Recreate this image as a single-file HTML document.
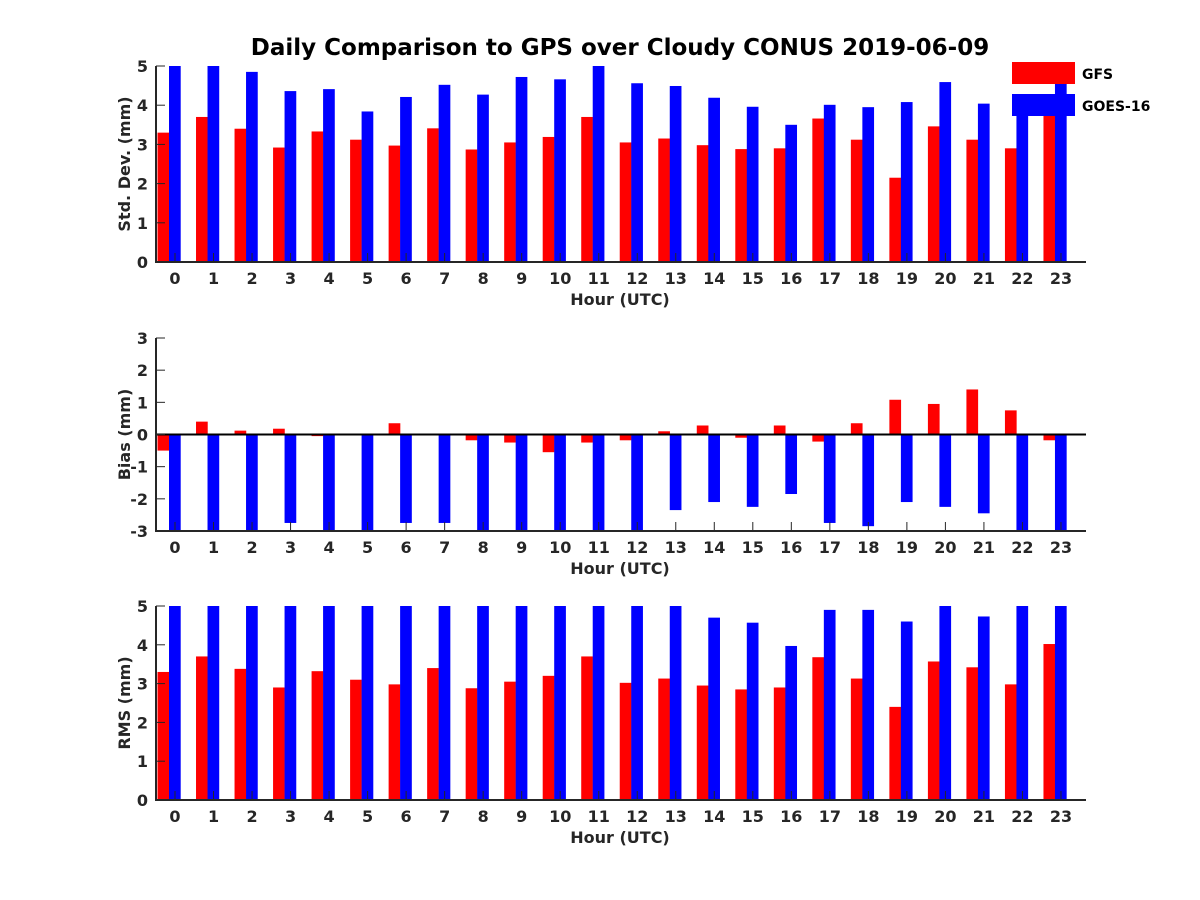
<!DOCTYPE html>
<html><head><meta charset="utf-8"><style>
body{margin:0;background:#fff;}
svg{display:block;font-family:"DejaVu Sans","Liberation Sans",sans-serif;font-weight:bold;}
</style></head><body>
<svg id="c" width="1200" height="900">
<defs>
<clipPath id="cp0"><rect x="156" y="66" width="930" height="196"/></clipPath>
<clipPath id="cp1"><rect x="156" y="338" width="930" height="193"/></clipPath>
<clipPath id="cp2"><rect x="156" y="606" width="930" height="194"/></clipPath>
</defs>
<text x="620" y="55" text-anchor="middle" font-size="23" fill="#000">Daily Comparison to GPS over Cloudy CONUS 2019-06-09</text>
</svg>
<script>
const hours=[0,1,2,3,4,5,6,7,8,9,10,11,12,13,14,15,16,17,18,19,20,21,22,23];
const stdGFS=[3.3,3.7,3.4,2.92,3.33,3.12,2.97,3.41,2.87,3.05,3.19,3.7,3.05,3.15,2.98,2.88,2.9,3.66,3.12,2.15,3.46,3.12,2.9,3.9];
const stdGOES=[5.3,5.2,4.85,4.36,4.41,3.84,4.21,4.52,4.27,4.72,4.66,5.1,4.56,4.49,4.19,3.96,3.5,4.01,3.95,4.08,4.59,4.04,4.04,4.7];
const biasGFS=[-0.5,0.4,0.12,0.18,-0.05,0.03,0.35,0,-0.18,-0.25,-0.55,-0.25,-0.18,0.1,0.28,-0.1,0.28,-0.22,0.35,1.08,0.95,1.4,0.75,-0.18];
const biasGOES=[-3.5,-3.5,-3.5,-2.75,-3.5,-3.5,-2.75,-2.75,-3.5,-3.5,-3.5,-3.5,-3.5,-2.35,-2.1,-2.25,-1.85,-2.75,-2.85,-2.1,-2.25,-2.45,-3.5,-3.5];
const rmsGFS=[3.3,3.7,3.38,2.9,3.32,3.1,2.98,3.4,2.88,3.05,3.2,3.7,3.02,3.13,2.95,2.85,2.9,3.68,3.13,2.4,3.57,3.42,2.98,4.02];
const rmsGOES=[5.5,5.5,5.5,5.5,5.5,5.5,5.5,5.5,5.5,5.5,5.5,5.5,5.5,5.5,4.7,4.57,3.97,4.9,4.9,4.6,5.5,4.73,5.5,5.5];
const stdTicks=[0,1,2,3,4,5];
const biasTicks=[-3,-2,-1,0,1,2,3];
const rmsTicks=[0,1,2,3,4,5];

const svg=document.getElementById('c');
const NS='http://www.w3.org/2000/svg';
function mk(t,a,p){const e=document.createElementNS(NS,t);for(const k in a)e.setAttribute(k,a[k]);(p||svg).appendChild(e);return e;}
const x=h=>175+h*38.52;
const panels=[
 {name:'std',top:66,bot:262,min:0,max:5,ticks:stdTicks,a:stdGFS,b:stdGOES,label:'Std. Dev. (mm)',cp:'cp0'},
 {name:'bias',top:338,bot:531,min:-3,max:3,ticks:biasTicks,a:biasGFS,b:biasGOES,label:'Bias (mm)',cp:'cp1'},
 {name:'rms',top:606,bot:800,min:0,max:5,ticks:rmsTicks,a:rmsGFS,b:rmsGOES,label:'RMS (mm)',cp:'cp2'}
];
panels.forEach(p=>{
 const y=v=>p.bot-(v-p.min)/(p.max-p.min)*(p.bot-p.top);
 const g=mk('g',{'clip-path':'url(#'+p.cp+')'});
 
 
 const base=y(Math.max(p.min,0));
 hours.forEach((h,i)=>{
  const c=x(h);
  [[p.a[i],'#ff0000',c-17.5,'gfs'],[p.b[i],'#0000ff',c-6,'goes']].forEach(([v,col,bx,s])=>{
   const yv=y(v);
   const r=mk('rect',{x:bx,y:Math.min(yv,base),width:11.7,height:Math.abs(yv-base),fill:col},g);
   
   
  });
 });
 if(p.min<0){const z=mk('line',{x1:156,x2:1086,y1:y(0),y2:y(0),stroke:'#000','stroke-width':2});
  }
 const ax=mk('path',{d:`M156 ${p.top} V${p.bot} H1086`,fill:'none',stroke:'#262626','stroke-width':2});
 
 
 p.ticks.forEach(t=>{
  const tx=mk('text',{x:148,y:y(t)+6,'text-anchor':'end','font-size':16,fill:'#262626'});
  tx.textContent=t;
  
  
  mk('line',{x1:156,x2:165,y1:y(t),y2:y(t),stroke:'#262626','stroke-width':1});
 });
 hours.forEach(h=>{
  const tx=mk('text',{x:x(h),y:p.bot+22,'text-anchor':'middle','font-size':16,fill:'#262626'});
  tx.textContent=h;
  
  
  mk('line',{x1:x(h),x2:x(h),y1:p.bot,y2:p.bot-9,stroke:'#262626','stroke-width':1});
 });
 const xl=mk('text',{x:620,y:p.bot+43,'text-anchor':'middle','font-size':16,fill:'#262626'});
 xl.textContent='Hour (UTC)';
 
 
 const cy=(p.top+p.bot)/2;
 const yl=mk('text',{x:0,y:0,'text-anchor':'middle','font-size':16,fill:'#262626',transform:`translate(130 ${cy}) rotate(-90)`});
 yl.textContent=p.label;
 
 
});
const lg=mk('g',{});


mk('rect',{x:1012,y:62,width:63,height:22,fill:'#ff0000'},lg);
mk('rect',{x:1012,y:94,width:63,height:22,fill:'#0000ff'},lg);
const l1=mk('text',{x:1082,y:79,'font-size':14,fill:'#000'},lg);l1.textContent='GFS';


const l2=mk('text',{x:1082,y:111,'font-size':14,fill:'#000'},lg);l2.textContent='GOES-16';


</script>
</body></html>
